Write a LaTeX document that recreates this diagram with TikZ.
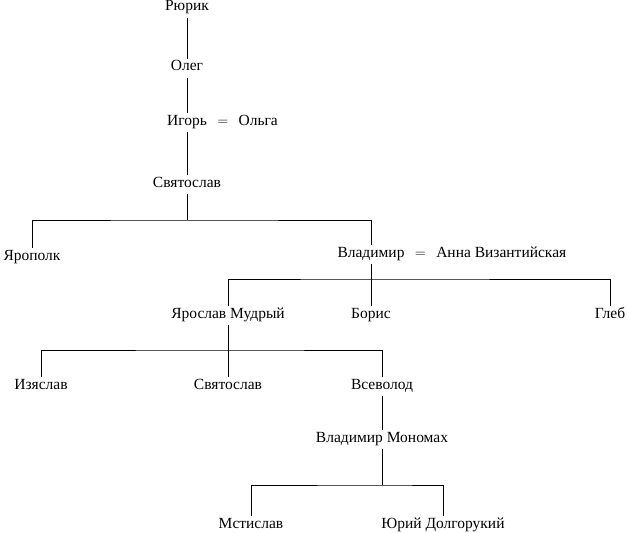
\documentclass[tikz,border=0pt]{standalone}
\usepackage{fontspec}
\setmainfont{Liberation Serif}
\usetikzlibrary{positioning}

\tikzset{
  person/.style={inner sep=3pt, text height=9pt, text depth=4pt,
    font=\fontsize{15.5}{17}\selectfont, anchor=base},
  marry/.style={inner sep=3pt, text height=9pt, text depth=4pt,
    font=\fontsize{15.5}{17}\selectfont},
  kin/.style={line width=0.8pt}
}

\begin{document}
\begin{tikzpicture}[x=1pt,y=-1pt]
\useasboundingbox (0,0) rectangle (628,532);

% Define nodes
\node[person] (rurik)   at (187,11)  {Рюрик};
\node[person] (oleg)    at (187,71)  {Олег};
\node[person] (igor)    at (187,125) {Игорь};
\node[marry, right=4pt of igor] (eqa) {$=$};
\node[marry, right=4pt of eqa]  (olga) {Ольга};
\node[person] (svjat)   at (187,187) {Святослав};

\node[person] (jaropolk) at (32,260)  {Ярополк};
\node[person] (vladimir) at (371,257) {Владимир};
\node[marry, right=4pt of vladimir] (eqb) {$=$};
\node[marry, right=4pt of eqb]      (anna) {Анна Византийская};

\node[person] (jaroslav) at (228,318) {Ярослав Мудрый};
\node[person] (boris)    at (371,318) {Борис};
\node[person] (gleb)     at (610,318) {Глеб};

\node[person] (izjaslav) at (41,389)  {Изяслав};
\node[person] (svjatb)   at (228,389) {Святослав};
\node[person] (vsevolod) at (382,389) {Всеволод};
\node[person] (monomakh) at (382,442) {Владимир Мономах};

\node[person] (mstislav) at (251,528) {Мстислав};
\node[person] (jurij)    at (443,528) {Юрий Долгорукий};

% Bars
\coordinate (bara) at (187,220);
\coordinate (barb) at (371,279);
\coordinate (barc) at (228,350);
\coordinate (bard) at (382,485);

% Connect the nodes
\draw[kin] (rurik) -- (oleg);
\draw[kin] (oleg) -- (igor);
\draw[kin] (igor) -- (svjat);
\draw[kin] (svjat) -- (bara);
\draw[kin] (jaropolk.north) |- (bara) -| (vladimir.north);
\draw[kin] (vladimir) -- (boris);
\draw[kin] (jaroslav.north) |- (barb) -| (gleb.north);
\draw[kin] (jaroslav) -- (svjatb);
\draw[kin] (izjaslav.north) |- (barc) -| (vsevolod.north);
\draw[kin] (vsevolod) -- (monomakh);
\draw[kin] (monomakh) -- (bard);
\draw[kin] (mstislav.north) |- (bard) -| (jurij.north);

\end{tikzpicture}
\end{document}
